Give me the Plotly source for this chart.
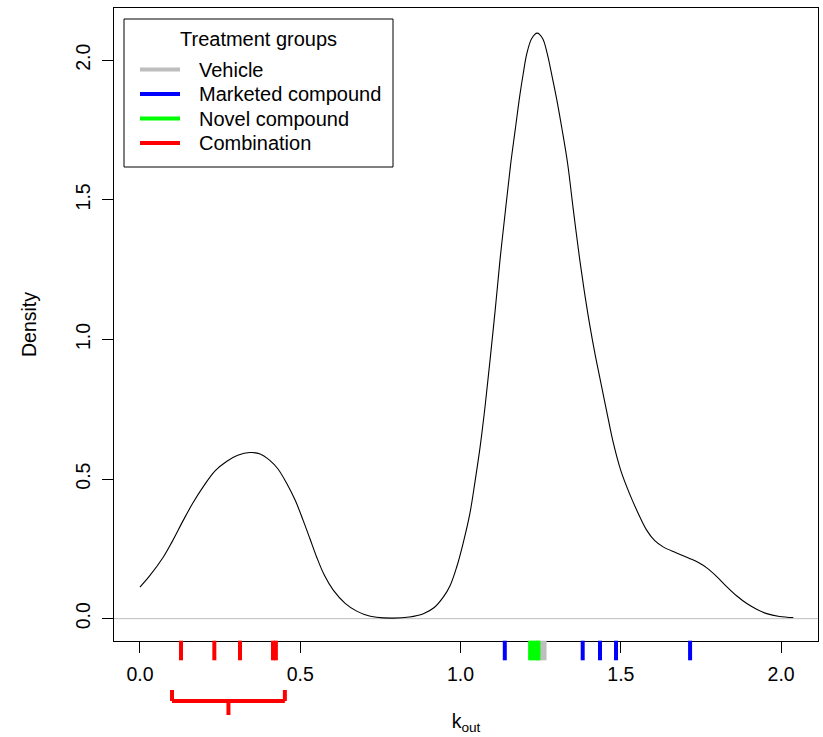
import plotly.graph_objects as go

# ---- data ----
density_x = [0.000, 0.030, 0.073, 0.100, 0.135, 0.165, 0.197, 0.235, 0.270, 0.305,
             0.343, 0.375, 0.405, 0.430, 0.458, 0.485, 0.509, 0.530, 0.551, 0.575,
             0.603, 0.640, 0.676, 0.700, 0.738, 0.790, 0.840, 0.884, 0.918, 0.946,
             0.968, 0.988, 1.008, 1.029, 1.045, 1.061, 1.077, 1.092, 1.108, 1.123,
             1.140, 1.156, 1.171, 1.185, 1.196, 1.206, 1.222, 1.239, 1.256, 1.270,
             1.285, 1.300, 1.317, 1.334, 1.352, 1.372, 1.388, 1.404, 1.420, 1.435,
             1.455, 1.476, 1.500, 1.528, 1.555, 1.580, 1.605, 1.632, 1.672, 1.716,
             1.742, 1.768, 1.800, 1.830, 1.862, 1.893, 1.925, 1.955, 1.995, 2.038]
density_y = [0.113, 0.153, 0.221, 0.275, 0.352, 0.414, 0.472, 0.530, 0.563, 0.585,
             0.595, 0.590, 0.567, 0.537, 0.484, 0.422, 0.352, 0.287, 0.221, 0.156,
             0.102, 0.055, 0.027, 0.015, 0.005, 0.002, 0.006, 0.018, 0.040, 0.077,
             0.120, 0.185, 0.270, 0.376, 0.490, 0.615, 0.765, 0.926, 1.105, 1.284,
             1.462, 1.625, 1.755, 1.875, 1.955, 2.020, 2.078, 2.097, 2.078, 2.025,
             1.945, 1.860, 1.750, 1.630, 1.462, 1.284, 1.158, 1.045, 0.945, 0.860,
             0.747, 0.632, 0.530, 0.445, 0.375, 0.318, 0.280, 0.257, 0.236, 0.215,
             0.201, 0.182, 0.150, 0.115, 0.081, 0.054, 0.033, 0.018, 0.008, 0.004]

group_names = ["Vehicle", "Marketed compound", "Novel compound", "Combination"]
group_colors = ["#bebebe", "#0000ff", "#00ff00", "#ff0000"]
rug_vehicle = [1.240, 1.252, 1.262]
rug_marketed = [1.138, 1.381, 1.435, 1.485, 1.716]
rug_novel = [1.217, 1.225, 1.234, 1.243]
rug_combination = [0.128, 0.232, 0.312, 0.415, 0.424]
rug_values = [rug_vehicle, rug_marketed, rug_novel, rug_combination]

bracket_x = [0.100, 0.452]   # span of the red bracket under the axis (in k_out units)

x_tickvals = [0.0, 0.5, 1.0, 1.5, 2.0]
x_ticktext = ["0.0", "0.5", "1.0", "1.5", "2.0"]
y_tickvals = [0.0, 0.5, 1.0, 1.5, 2.0]
y_ticktext = ["0.0", "0.5", "1.0", "1.5", "2.0"]

# ---- layout geometry ----
WIDTH, HEIGHT = 823, 737
ML, MR, MT, MB = 114, 5, 8, 77
PW = WIDTH - ML - MR
PH = HEIGHT - MT - MB
BOX_BOTTOM = 641          # pixel row of the lower frame of the density panel
FONT = "Liberation Sans, Arial, sans-serif"


def pxx(p):
    return (p - ML) / PW


def pxy(p):
    return (HEIGHT - MB - p) / PH


main_dom0 = pxy(BOX_BOTTOM)

fig = go.Figure()

fig.add_trace(go.Scatter(x=density_x, y=density_y, mode="lines",
                         line=dict(color="black", width=1.1, shape="spline", smoothing=1.0),
                         showlegend=False, hoverinfo="skip"))

# rug marks on a thin strip below the frame (vehicle first so novel draws on top)
for i in [0, 2, 1, 3]:
    fig.add_trace(go.Scatter(
        x=rug_values[i], y=[0.5] * len(rug_values[i]), mode="markers", cliponaxis=False,
        xaxis="x", yaxis="y2",
        marker=dict(symbol="line-ns", size=14, line=dict(color=group_colors[i], width=4)),
        name=group_names[i], showlegend=False, hoverinfo="skip"))

shapes = []
# zero line
shapes.append(dict(type="line", xref="paper", yref="y", x0=0, x1=1, y0=0, y1=0,
                   line=dict(color="#bebebe", width=1), layer="below"))
# red bracket
bx0, bx1 = bracket_x
bmid = (bx0 + bx1) / 2
yb_top, yb_mid, yb_bot = pxy(690), pxy(701), pxy(715)
for seg in [(bx0, yb_top, bx0, yb_mid), (bx0, yb_mid, bx1, yb_mid),
            (bx1, yb_mid, bx1, yb_top), (bmid, yb_mid, bmid, yb_bot)]:
    shapes.append(dict(type="line", xref="x", yref="paper",
                       x0=seg[0], y0=seg[1], x1=seg[2], y1=seg[3],
                       line=dict(color="#ff0000", width=4)))

# legend box
shapes.append(dict(type="rect", xref="paper", yref="paper",
                   x0=pxx(124), x1=pxx(393), y0=pxy(167), y1=pxy(19),
                   line=dict(color="black", width=1), fillcolor="white", layer="above"))
annotations = []
annotations.append(dict(text="Treatment groups", xref="paper", yref="paper",
                        x=pxx(258.5), y=pxy(38.5), xanchor="center", yanchor="middle",
                        showarrow=False, font=dict(family=FONT, size=20, color="black")))
leg_y = [69.5, 94.0, 118.5, 143.0]
for name, col, yy in zip(group_names, group_colors, leg_y):
    shapes.append(dict(type="line", xref="paper", yref="paper",
                       x0=pxx(140), x1=pxx(180), y0=pxy(yy), y1=pxy(yy),
                       line=dict(color=col, width=4), layer="above"))
    annotations.append(dict(text=name, xref="paper", yref="paper",
                            x=pxx(197), y=pxy(yy + 0.5), xanchor="left", yanchor="middle",
                            showarrow=False, font=dict(family=FONT, size=20, color="black")))

fig.update_layout(
    width=WIDTH, height=HEIGHT,
    margin=dict(l=ML, r=MR, t=MT, b=MB, pad=0),
    paper_bgcolor="white", plot_bgcolor="white",
    font=dict(family=FONT, size=19.5, color="black"),
    shapes=shapes, annotations=annotations,
    xaxis=dict(range=[-0.081, 2.115], tickvals=x_tickvals, ticktext=x_ticktext,
               anchor="y",
               ticks="outside", ticklen=11, tickwidth=1, tickcolor="black",
               showline=True, linecolor="black", linewidth=1, mirror=True,
               showgrid=False, zeroline=False, ticklabelstandoff=5,
               title=dict(text="k<sub>out</sub>", standoff=29,
                          font=dict(family=FONT, size=19.5, color="black"))),
    yaxis=dict(domain=[main_dom0, 1], range=[-0.080, 2.187],
               tickvals=y_tickvals, ticktext=y_ticktext,
               ticks="outside", ticklen=11, tickwidth=1, tickcolor="black",
               showline=True, linecolor="black", linewidth=1, mirror=True,
               showgrid=False, zeroline=False, tickangle=-90, ticklabelstandoff=4,
               title=dict(text="Density", standoff=30,
                          font=dict(family=FONT, size=19.5, color="black"))),
    yaxis2=dict(domain=[0, main_dom0], range=[0, 1], anchor="x",
                visible=False, showgrid=False, zeroline=False, fixedrange=True),
    showlegend=False,
)

fig.write_html("out.html")
